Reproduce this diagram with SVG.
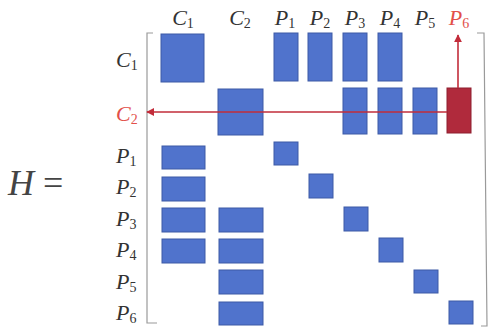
<svg xmlns="http://www.w3.org/2000/svg" width="492" height="331" viewBox="0 0 492 331">
<defs>
<style>
.b{fill:#5073cc;stroke:#3d5aa6;stroke-width:1}
.r{fill:#b02a3c;stroke:#8e1f2e;stroke-width:1}
.lab{font-family:"Liberation Serif","DejaVu Serif",serif;font-size:22px;fill:#333333}
.red{fill:#e2504a}
.v{font-style:italic}
.s{font-size:14px}
.brk{fill:none;stroke:#9a9a9a;stroke-width:1.2}
.arr{stroke:#c22c3a;stroke-width:1.6;fill:none}
</style>
<marker id="ah" viewBox="0 0 10 10" refX="9" refY="5" markerWidth="8" markerHeight="8" markerUnits="userSpaceOnUse" orient="auto">
<path d="M0,0 L10,5 L0,10 z" fill="#c22c3a"/>
</marker>
</defs>
<rect width="492" height="331" fill="#ffffff"/>

<g id="H">
<text x="8" y="195" class="lab" style="font-size:36px;fill:#444444"><tspan class="v">H</tspan> =</text>
</g>

<g id="col-labels" class="lab" text-anchor="middle">
<text x="183" y="25"><tspan class="v">C</tspan><tspan class="s" dy="3">1</tspan></text>
<text x="240" y="25"><tspan class="v">C</tspan><tspan class="s" dy="3">2</tspan></text>
<text x="285" y="25"><tspan class="v">P</tspan><tspan class="s" dy="3">1</tspan></text>
<text x="320" y="25"><tspan class="v">P</tspan><tspan class="s" dy="3">2</tspan></text>
<text x="355" y="25"><tspan class="v">P</tspan><tspan class="s" dy="3">3</tspan></text>
<text x="390" y="25"><tspan class="v">P</tspan><tspan class="s" dy="3">4</tspan></text>
<text x="425" y="25"><tspan class="v">P</tspan><tspan class="s" dy="3">5</tspan></text>
<text x="459" y="25" class="red"><tspan class="v">P</tspan><tspan class="s" dy="3">6</tspan></text>
</g>

<g id="row-labels" class="lab">
<text x="116" y="67"><tspan class="v">C</tspan><tspan class="s" dy="3">1</tspan></text>
<text x="116" y="121" class="red"><tspan class="v">C</tspan><tspan class="s" dy="3">2</tspan></text>
<text x="116" y="163"><tspan class="v">P</tspan><tspan class="s" dy="3">1</tspan></text>
<text x="116" y="194"><tspan class="v">P</tspan><tspan class="s" dy="3">2</tspan></text>
<text x="116" y="226"><tspan class="v">P</tspan><tspan class="s" dy="3">3</tspan></text>
<text x="116" y="257"><tspan class="v">P</tspan><tspan class="s" dy="3">4</tspan></text>
<text x="116" y="289"><tspan class="v">P</tspan><tspan class="s" dy="3">5</tspan></text>
<text x="116" y="320"><tspan class="v">P</tspan><tspan class="s" dy="3">6</tspan></text>
</g>

<g id="brackets">
<path class="brk" d="M153,33 H147 V323 H157"/>
<path class="brk" d="M477,33 H484 L487,326 H481"/>
</g>

<g id="row-C1">
<rect class="b" x="161" y="34" width="43" height="48"/>
<rect class="b" x="274" y="33" width="24" height="48"/>
<rect class="b" x="308" y="33" width="24" height="48"/>
<rect class="b" x="343" y="33" width="24" height="48"/>
<rect class="b" x="378" y="33" width="24" height="48"/>
</g>

<g id="row-C2">
<rect class="b" x="218" y="89" width="45" height="46"/>
<rect class="b" x="343" y="88" width="24" height="46"/>
<rect class="b" x="378" y="88" width="24" height="46"/>
<rect class="b" x="413" y="88" width="24" height="46"/>
<rect class="r" x="447" y="88" width="24" height="45"/>
</g>

<g id="row-P1">
<rect class="b" x="162" y="146" width="43" height="23"/>
<rect class="b" x="274" y="142" width="24" height="23"/>
</g>
<g id="row-P2">
<rect class="b" x="162" y="177" width="43" height="24"/>
<rect class="b" x="309" y="174" width="24" height="24"/>
</g>
<g id="row-P3">
<rect class="b" x="162" y="208" width="43" height="24"/>
<rect class="b" x="219" y="208" width="44" height="24"/>
<rect class="b" x="344" y="207" width="24" height="24"/>
</g>
<g id="row-P4">
<rect class="b" x="162" y="239" width="43" height="24"/>
<rect class="b" x="219" y="239" width="44" height="24"/>
<rect class="b" x="379" y="238" width="24" height="24"/>
</g>
<g id="row-P5">
<rect class="b" x="219" y="270" width="44" height="24"/>
<rect class="b" x="414" y="270" width="24" height="23"/>
</g>
<g id="row-P6">
<rect class="b" x="219" y="302" width="44" height="23"/>
<rect class="b" x="449" y="301" width="24" height="23"/>
</g>

<g id="connectors">
<line class="arr" x1="447" y1="112" x2="147" y2="112" marker-end="url(#ah)"/>
<line class="arr" x1="458" y1="88" x2="458" y2="35" marker-end="url(#ah)"/>
</g>
</svg>
